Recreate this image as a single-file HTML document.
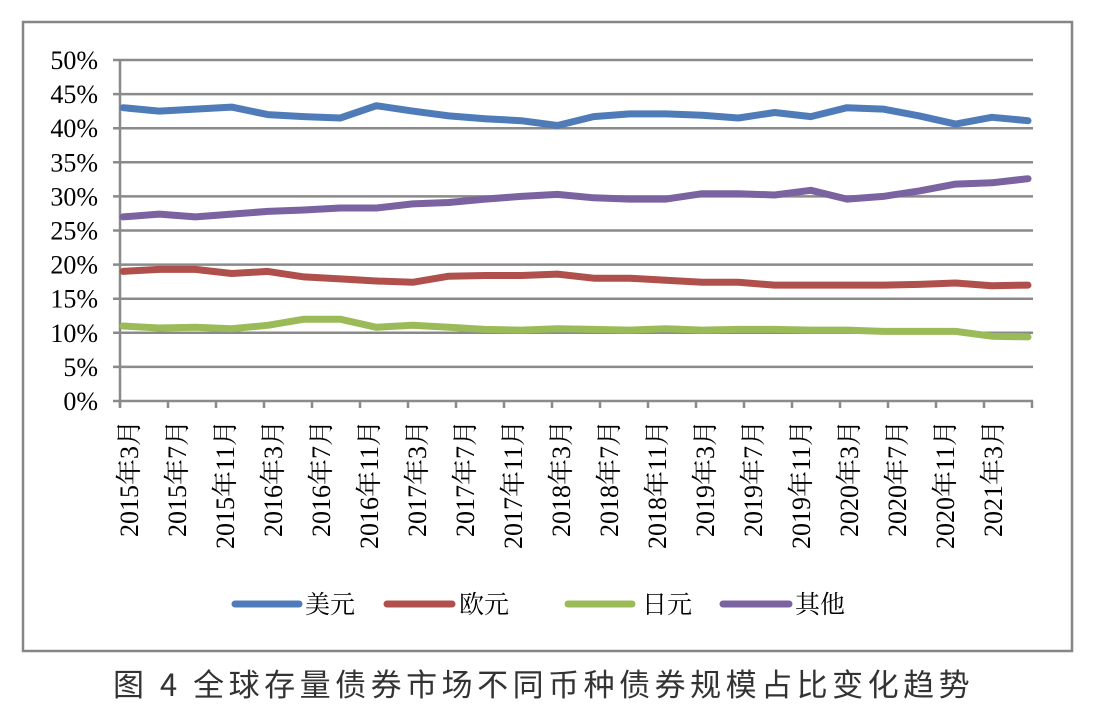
<!DOCTYPE html>
<html><head><meta charset="utf-8"><style>
body{margin:0;background:#fff}
svg{display:block}
</style></head><body>
<svg id="s" width="1094" height="708" xmlns="http://www.w3.org/2000/svg">
<rect x="23" y="22" width="1049" height="629" fill="none" stroke="#868686" stroke-width="2.5"/>
<g id="grid" stroke="#8a8a8a" stroke-width="2.5"></g>
<g id="lines" fill="none" stroke-width="7" stroke-linejoin="round" stroke-linecap="round"></g>
<g id="yl" font-family="Liberation Serif, serif" font-size="26" text-anchor="end" fill="#000"></g>
<g id="xl" font-family="Liberation Serif, 'Noto Serif CJK SC', serif" font-size="26" fill="#000"></g>
<g stroke-width="7" stroke-linecap="round">
<line x1="235" y1="604" x2="299" y2="604" stroke="#4f7cb9"/>
<line x1="387" y1="604" x2="452" y2="604" stroke="#b0504c"/>
<line x1="568" y1="604" x2="632" y2="604" stroke="#9bbb59"/>
<line x1="723" y1="604" x2="789" y2="604" stroke="#7b62a0"/>
</g>
<g font-family="'Noto Serif CJK SC', serif" font-size="25" fill="#000">
<text x="305" y="613">美元</text><text x="459" y="613">欧元</text>
<text x="642" y="613">日元</text><text x="795" y="613">其他</text>
</g>
<text x="113" y="696" font-family="'Noto Sans CJK SC', sans-serif" font-size="31" fill="#333" letter-spacing="4.5">图 4 全球存量债券市场不同币种债券规模占比变化趋势</text>
</svg>
<script>
var ns="http://www.w3.org/2000/svg";
function el(p,t,a,txt){var e=document.createElementNS(ns,t);for(var k in a)e.setAttribute(k,a[k]);if(txt)e.textContent=txt;document.getElementById(p).appendChild(e);}
function Y(v){return 401-v*6.82;}
for(var i=0;i<=10;i++){var y=Y(i*5);el("grid","line",{x1:113,y1:y,x2:1033,y2:y});el("yl","text",{x:98,y:y+9},(i*5)+"%");}
el("grid","line",{x1:120,y1:60,x2:120,y2:407});
var labs=["2015年3月","2015年7月","2015年11月","2016年3月","2016年7月","2016年11月","2017年3月","2017年7月","2017年11月","2018年3月","2018年7月","2018年11月","2019年3月","2019年7月","2019年11月","2020年3月","2020年7月","2020年11月","2021年3月"];
for(var i=0;i<=19;i++){var x=120+i*48;el("grid","line",{x1:x,y1:401,x2:x,y2:408});
 if(i<19){el("xl","text",{transform:"translate("+(x+18)+",420) rotate(-90)","text-anchor":"end"},labs[i]);}}
var d={"#4f7cb9":[43,42.5,42.8,43.1,42,41.7,41.5,43.3,42.5,41.8,41.4,41.1,40.4,41.7,42.1,42.1,41.9,41.5,42.3,41.7,43,42.8,41.8,40.6,41.6,41.1],
"#7b62a0":[27,27.4,27,27.4,27.8,28,28.3,28.3,28.9,29.1,29.6,30,30.3,29.8,29.6,29.6,30.4,30.4,30.2,30.9,29.6,30,30.8,31.8,32,32.6],
"#b0504c":[19,19.3,19.3,18.7,19,18.2,17.9,17.6,17.4,18.3,18.4,18.4,18.6,18,18,17.7,17.4,17.4,17,17,17,17,17.1,17.3,16.9,17],
"#9bbb59":[11,10.7,10.8,10.6,11.1,12,12,10.8,11.1,10.8,10.5,10.4,10.6,10.5,10.4,10.6,10.4,10.5,10.5,10.4,10.4,10.2,10.2,10.2,9.5,9.4]};
for(var c in d){var p=d[c].map(function(v,i){return (123+i*36.2).toFixed(1)+","+Y(v).toFixed(1)}).join(" ");el("lines","polyline",{points:p,stroke:c});}
</script>
</body></html>
